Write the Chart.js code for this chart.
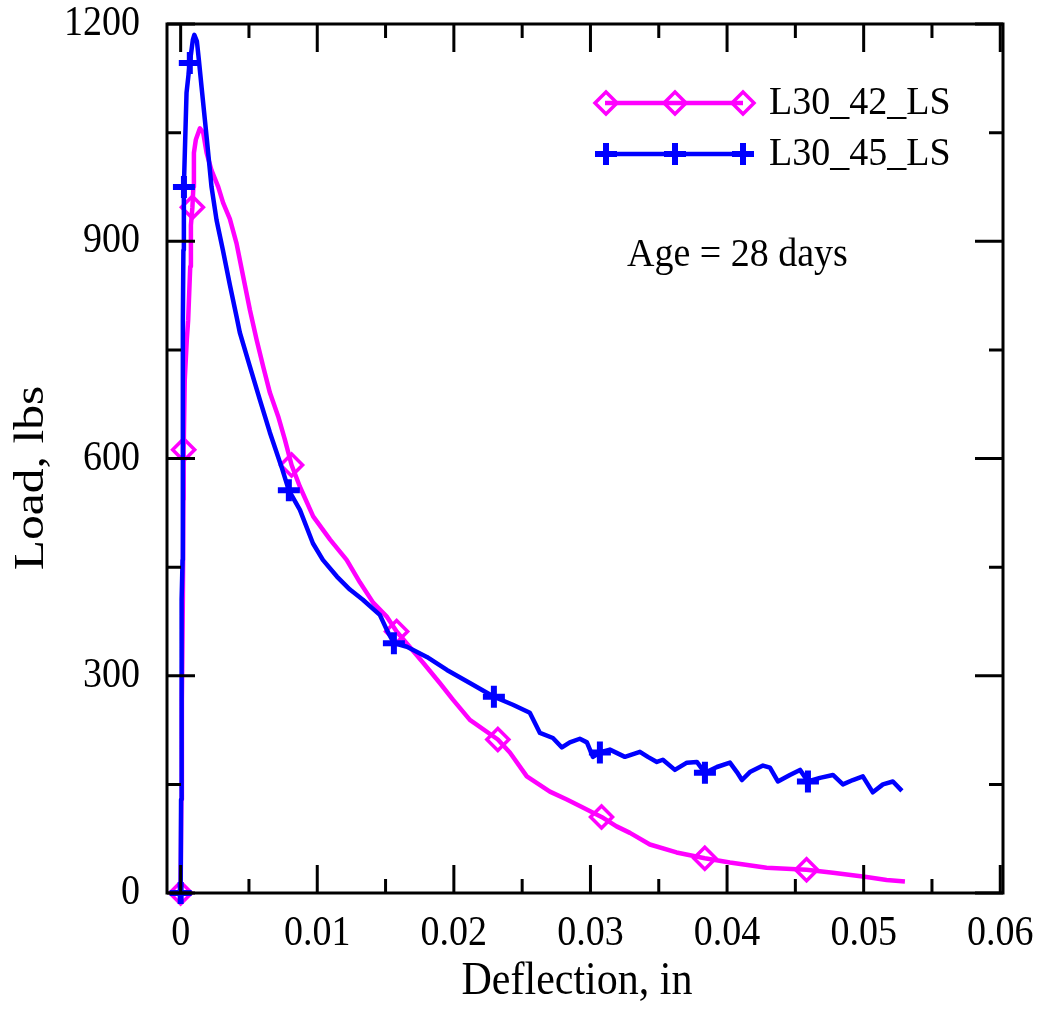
<!DOCTYPE html>
<html>
<head>
<meta charset="utf-8">
<title>Load vs deflection</title>
<script src="https://cdn.jsdelivr.net/npm/chart.js@4.4.0/dist/chart.umd.min.js"></script>
<style>
  html, body { margin: 0; padding: 0; background: #fff; }
  canvas { display: block; }
</style>
</head>
<body>
<canvas id="loadChart" width="1049" height="1011"></canvas>
<script>
// Load-deflection curves, beams at 28 days
const seriesNames = ['L30_42_LS', 'L30_45_LS'];

const defl42 = [0, 0.00005, 0.00009, 0.00016, 0.0002, 0.00022, 0.0003, 0.00045, 0.00055, 0.0007,
  0.00075, 0.00086, 0.00093, 0.00097, 0.00111, 0.00141, 0.00165, 0.0019, 0.00226, 0.00275,
  0.00311, 0.0036, 0.00409, 0.00458, 0.00507, 0.00556, 0.00604, 0.00653, 0.00714, 0.00763,
  0.00812, 0.00873, 0.0097, 0.01094, 0.01215, 0.01312, 0.01409, 0.01507, 0.01581, 0.01654,
  0.01775, 0.01897, 0.01993, 0.02117, 0.02322, 0.0241, 0.02534, 0.02703, 0.02827, 0.02944,
  0.03081, 0.03191, 0.03289, 0.03435, 0.0363, 0.03837, 0.04021, 0.04289, 0.04582, 0.04775,
  0.05021, 0.05168, 0.05302];
const load42 = [0, 129, 267, 405, 543, 612, 709, 764, 791, 865,
  922, 947, 975, 1022, 1040, 1056, 1050, 1022, 998, 975,
  953, 931, 897, 851, 805, 764, 727, 691, 658, 626,
  591, 561, 520, 488, 460, 429, 401, 382, 361, 345,
  318, 290, 267, 239, 212, 194, 161, 140, 129, 118,
  105, 92, 83, 67, 56, 48, 42, 35, 32, 28,
  22, 18, 16];
const marks42 = [0, 5, 11, 30, 38, 44, 50, 55, 58];

const defl45 = [0, 0.00003, 0.00005, 0.00009, 0.00014, 0.00016, 0.00016, 0.0002, 0.00023, 0.00024,
  0.00043, 0.00067, 0.00089, 0.001, 0.00119, 0.00133, 0.00153, 0.0019, 0.00226, 0.00263,
  0.00309, 0.0036, 0.00409, 0.00433, 0.00507, 0.0058, 0.00653, 0.00739, 0.00792, 0.00873,
  0.00968, 0.01041, 0.01144, 0.01239, 0.01334, 0.01458, 0.0151, 0.01561, 0.01656, 0.01802,
  0.01949, 0.02117, 0.02293, 0.02432, 0.02556, 0.0263, 0.02725, 0.02791, 0.02849, 0.02922,
  0.02974, 0.03018, 0.03069, 0.03142, 0.03252, 0.03362, 0.0342, 0.03486, 0.0353, 0.03618,
  0.03706, 0.03779, 0.03838, 0.03926, 0.04021, 0.04072, 0.04109, 0.04167, 0.04263, 0.04314,
  0.04372, 0.0446, 0.04534, 0.04592, 0.0468, 0.04775, 0.04848, 0.04921, 0.04994, 0.05067,
  0.05141, 0.05214, 0.0528];
const load45 = [0, 129, 336, 405, 460, 612, 791, 888, 957, 975,
  1105, 1146, 1178, 1185, 1176, 1151, 1113, 1044, 975, 929,
  888, 840, 796, 774, 727, 681, 636, 588, 556, 529,
  483, 460, 437, 419, 405, 384, 363, 345, 340, 326,
  308, 290, 271, 260, 249, 221, 214, 201, 208, 213,
  208, 188, 194, 198, 188, 195, 188, 181, 184, 170,
  180, 181, 166, 174, 180, 167, 156, 167, 176, 173,
  154, 163, 170, 154, 159, 163, 150, 156, 161, 139,
  150, 154, 141];
const marks45 = [0, 9, 11, 28, 37, 42, 52, 62, 73];

const xTicks = [0, 0.01, 0.02, 0.03, 0.04, 0.05, 0.06];
const xTickLabels = ['0', '0.01', '0.02', '0.03', '0.04', '0.05', '0.06'];
const yTicks = [0, 300, 600, 900, 1200];
const yTickLabels = ['0', '300', '600', '900', '1200'];

const MAGENTA = '#ff00ff';
const BLUE = '#0000ff';
const SERIF = '"Liberation Serif", "Times New Roman", serif';

function pairs(xs, ys) {
    return xs.map((x, i) => ({ x: x, y: ys[i] }));
}

// text with an optional stretch along x / y
function stretchText(ctx, txt, x, y, opt) {
    ctx.save();
    ctx.translate(x, y);
    if (opt.rotate) ctx.rotate(opt.rotate);
    ctx.scale(opt.sx || 1, opt.sy || 1);
    ctx.font = opt.font;
    ctx.fillStyle = '#000';
    ctx.textAlign = opt.align || 'center';
    ctx.textBaseline = opt.baseline || 'middle';
    ctx.fillText(txt, 0, 0);
    ctx.restore();
}

function diamond(ctx, x, y, r) {
    ctx.beginPath();
    ctx.moveTo(x, y - r);
    ctx.lineTo(x + r, y);
    ctx.lineTo(x, y + r);
    ctx.lineTo(x - r, y);
    ctx.closePath();
    ctx.stroke();
}

function cross(ctx, x, y, r) {
    ctx.beginPath();
    ctx.moveTo(x - r, y);
    ctx.lineTo(x + r, y);
    ctx.moveTo(x, y - r);
    ctx.lineTo(x, y + r);
    ctx.stroke();
}

// frame, inward ticks, labels, legend and note
const decorations = {
    id: 'decorations',
    afterDraw(chart) {
        const ctx = chart.ctx;
        const xs = chart.scales.x;
        const ys = chart.scales.y;
        const a = chart.chartArea;

        ctx.save();
        ctx.strokeStyle = '#000';
        ctx.lineWidth = 3;
        ctx.lineCap = 'butt';
        ctx.strokeRect(a.left, a.top, a.right - a.left, a.bottom - a.top);

        const major = 28, minor = 14;
        ctx.beginPath();
        for (let i = 0; i < xTicks.length; i++) {
            const v = xTicks[i];
            const px = xs.getPixelForValue(v);
            ctx.moveTo(px, a.bottom); ctx.lineTo(px, a.bottom - major);
            ctx.moveTo(px, a.top); ctx.lineTo(px, a.top + major);
            if (i < xTicks.length - 1) {
                const pm = xs.getPixelForValue(v + 0.005);
                ctx.moveTo(pm, a.bottom); ctx.lineTo(pm, a.bottom - minor);
                ctx.moveTo(pm, a.top); ctx.lineTo(pm, a.top + minor);
            }
        }
        for (let i = 0; i < yTicks.length; i++) {
            const v = yTicks[i];
            const py = ys.getPixelForValue(v);
            ctx.moveTo(a.left, py); ctx.lineTo(a.left + major, py);
            ctx.moveTo(a.right, py); ctx.lineTo(a.right - major, py);
            if (i < yTicks.length - 1) {
                const pm = ys.getPixelForValue(v + 150);
                ctx.moveTo(a.left, pm); ctx.lineTo(a.left + minor, pm);
                ctx.moveTo(a.right, pm); ctx.lineTo(a.right - minor, pm);
            }
        }
        ctx.stroke();

        // tick labels
        const tickFont = '38px ' + SERIF;
        xTicks.forEach((v, i) => {
            stretchText(ctx, xTickLabels[i], xs.getPixelForValue(v), a.bottom + 41,
                { font: tickFont, sy: 1.12 });
        });
        yTicks.forEach((v, i) => {
            stretchText(ctx, yTickLabels[i], a.left - 27, ys.getPixelForValue(v),
                { font: tickFont, sy: 1.12, align: 'right' });
        });

        // axis titles
        stretchText(ctx, 'Deflection, in', (a.left + a.right) / 2 - 8, 982,
            { font: '42px ' + SERIF, sy: 1.1 });
        stretchText(ctx, 'Load, lbs', 32, 478,
            { font: '42px ' + SERIF, rotate: -Math.PI / 2, sx: 1.18 });

        // legend
        const rows = [
            { y: 103, color: MAGENTA, mark: 'diamond' },
            { y: 154, color: BLUE, mark: 'cross' }
        ];
        rows.forEach((row, i) => {
            ctx.strokeStyle = row.color;
            ctx.lineWidth = 4.5;
            ctx.beginPath();
            ctx.moveTo(605, row.y);
            ctx.lineTo(743, row.y);
            ctx.stroke();
            [606, 675, 743].forEach(mx => {
                if (row.mark === 'diamond') {
                    ctx.lineWidth = 3.5;
                    diamond(ctx, mx, row.y, 11);
                } else {
                    ctx.lineWidth = 6;
                    cross(ctx, mx, row.y, 11);
                }
            });
            stretchText(ctx, seriesNames[i], 769, row.y + 1,
                { font: '38px ' + SERIF, sy: 1.05, align: 'left' });
        });

        stretchText(ctx, 'Age = 28 days', 627, 256,
            { font: '38px ' + SERIF, sy: 1.05, align: 'left' });
        ctx.restore();
    }
};

new Chart(document.getElementById('loadChart'), {
    type: 'scatter',
    data: {
        datasets: [
            {
                label: seriesNames[1],
                data: pairs(defl45, load45),
                showLine: true,
                borderColor: BLUE,
                borderWidth: 4.5,
                borderJoinStyle: 'round',
                pointStyle: 'cross',
                pointRadius: c => marks45.includes(c.dataIndex) ? 11 : 0,
                pointBorderWidth: 6,
                pointBorderColor: BLUE,
                pointBackgroundColor: BLUE,
                tension: 0,
                clip: false,
                order: 0
            },
            {
                label: seriesNames[0],
                data: pairs(defl42, load42),
                showLine: true,
                borderColor: MAGENTA,
                borderWidth: 4.5,
                borderJoinStyle: 'round',
                pointStyle: 'rectRot',
                pointRadius: c => marks42.includes(c.dataIndex) ? 11 : 0,
                pointBorderWidth: 3.5,
                pointBorderColor: MAGENTA,
                pointBackgroundColor: 'rgba(0,0,0,0)',
                tension: 0,
                clip: false,
                order: 1
            }
        ]
    },
    options: {
        responsive: false,
        animation: false,
        events: [],
        layout: { padding: { top: 24, right: 46, left: 0, bottom: 0 } },
        plugins: { legend: { display: false }, tooltip: { enabled: false } },
        scales: {
            x: {
                type: 'linear',
                min: -0.001,
                max: 0.0602,
                grid: { display: false, drawTicks: false },
                border: { display: false },
                ticks: { display: false },
                afterFit: s => { s.height = 118; }
            },
            y: {
                type: 'linear',
                min: 0,
                max: 1200,
                grid: { display: false, drawTicks: false },
                border: { display: false },
                ticks: { display: false },
                afterFit: s => { s.width = 167; }
            }
        }
    },
    plugins: [decorations]
});
</script>
</body>
</html>
